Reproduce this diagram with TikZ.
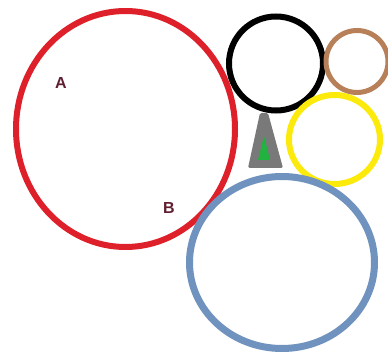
\documentclass[tikz,border=0pt]{standalone}
\usepackage{fontspec}
\setmainfont{Liberation Sans}
\usepackage{tikz}
\usetikzlibrary{positioning}
\definecolor{aroRojo}{RGB}{222, 32, 42}
\definecolor{aroMarron}{RGB}{184, 128, 88}
\definecolor{aroAmarillo}{RGB}{252, 234, 12}
\definecolor{aroAzul}{RGB}{112, 146, 190}
\definecolor{aroVerde}{RGB}{34, 178, 64}
\definecolor{letra}{RGB}{96, 30, 48}

\begin{document}
\begin{tikzpicture}[x=1pt, y=-1pt,
        aro/.style={line width=6pt},
        etiqueta/.style={font=\fontsize{16}{16}\selectfont\bfseries, text=letra, inner sep=0pt}]
        \useasboundingbox (0,0) rectangle (388,358);
        \fill[white] (0,0) rectangle (388,358);
        \draw[aro, aroRojo] (125.5,129) ellipse [x radius=109.5, y radius=118];
        \draw[aro, black] (276,63.5) circle [radius=47];
        \draw[aro, aroMarron, line width=5pt] (357,61.5) circle [radius=31];
        \draw[aro, aroAmarillo] (334.5,139.5) ellipse [x radius=45.5, y radius=44.5];
        \draw[aro, aroAzul, line width=7pt] (282,262.5) ellipse [x radius=92.5, y radius=86];
        \fill[gray!95!black, rounded corners=1.5pt] (260,113) -- (268,113) -- (283,168) -- (248,168) -- cycle;
        \fill[aroVerde] (264,136) -- (270,160) -- (258,160) -- cycle;
        \node[etiqueta] (a) at (61,83) {A};
        \node[etiqueta] (b) at (169,208) {B};
\end{tikzpicture}
\end{document}
